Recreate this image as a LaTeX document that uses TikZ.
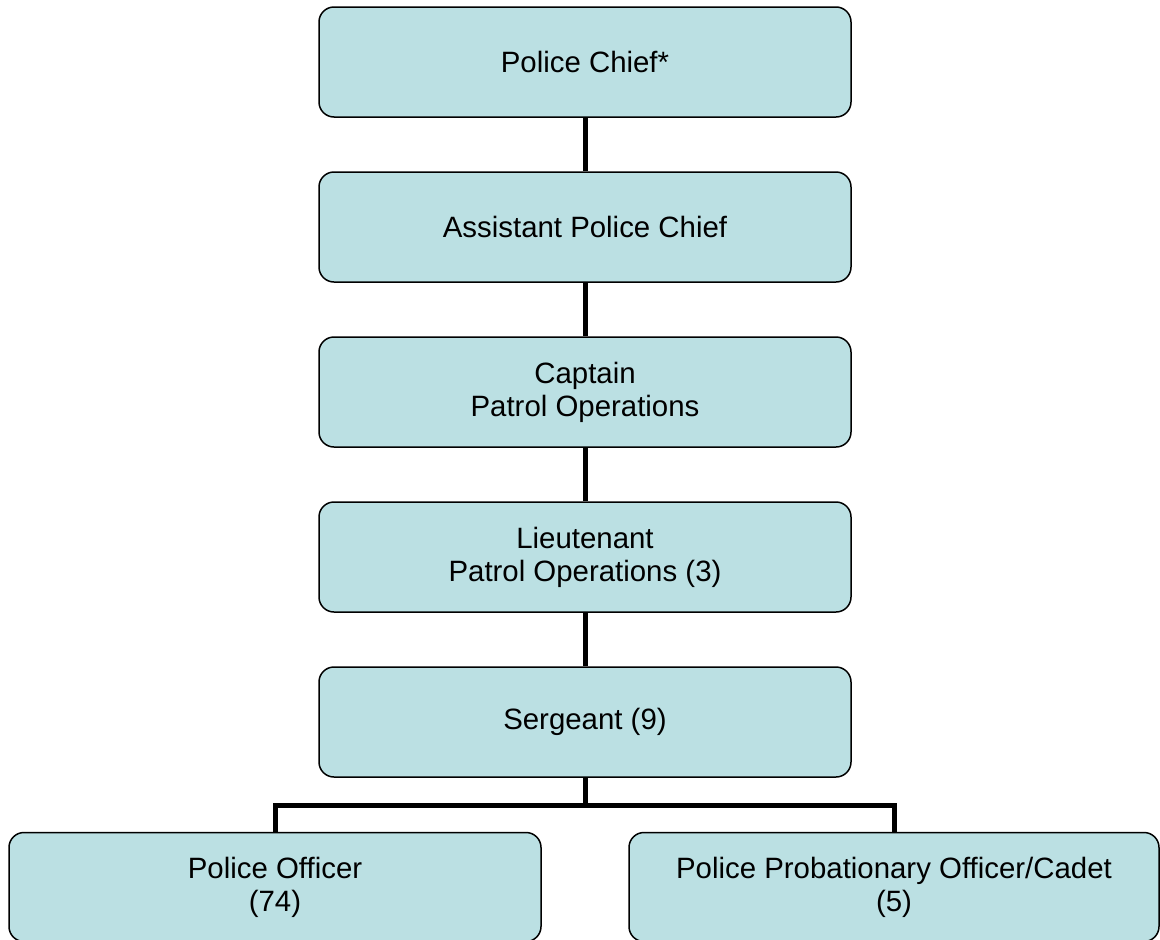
\documentclass[tikz,border=0pt]{standalone}
\usepackage{fontspec}
\setmainfont{Liberation Sans}
\definecolor{boxfill}{RGB}{187,224,227}

\begin{document}
\begin{tikzpicture}[x=1pt,y=-1pt,
    rank/.style={draw=black, line width=1.5pt, fill=boxfill, rounded corners=15pt,
        minimum width=532pt, minimum height=110pt, align=center,
        font=\fontsize{29.4}{33}\selectfont},
    link/.style={line width=5pt}]
    \useasboundingbox (0,0) rectangle (1160,940);

    % Draw the chain of ranks
    \node[rank] (chief) at (585,62) {Police Chief*};
    \node[rank] (asst) at (585,227) {Assistant Police Chief};
    \node[rank] (capt) at (585,392) {Captain\\Patrol Operations};
    \node[rank] (lieut) at (585,557) {Lieutenant\\Patrol Operations (3)};
    \node[rank] (serg) at (585,722) {Sergeant (9)};

    % Bottom row
    \node[rank, minimum height=109pt] (officer) at (275,887) {Police Officer\\(74)};
    \node[rank, minimum width=530pt, minimum height=109pt] (cadet) at (894,887) {Police Probationary Officer/Cadet\\(5)};

    % Connect the ranks
    \draw[link] (chief) -- (asst);
    \draw[link] (asst) -- (capt);
    \draw[link] (capt) -- (lieut);
    \draw[link] (lieut) -- (serg);

    % Split under the sergeant
    \coordinate (bus) at (585,805.5);
    \draw[link] (serg) -- (bus);
    \draw[link] (officer.north) |- (bus) -| (cadet.north);
\end{tikzpicture}
\end{document}
